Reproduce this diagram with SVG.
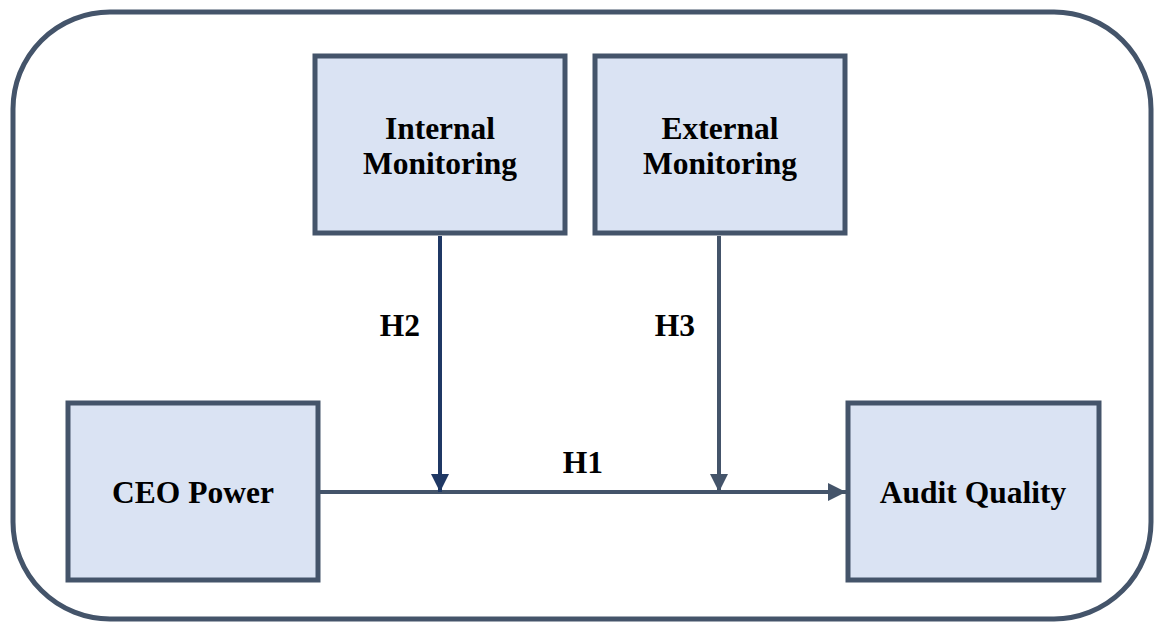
<svg xmlns="http://www.w3.org/2000/svg" width="1157" height="623" viewBox="0 0 1157 623">
<style>
.box{fill:#DAE3F3;stroke:#44546A;stroke-width:5}
.t{font-family:"Liberation Serif","Times New Roman",serif;font-weight:bold;font-size:31.5px;fill:#000;text-anchor:middle}
.c{stroke:#44546A;stroke-width:4;fill:none}
</style>
<defs>
<marker id="ag" viewBox="0 0 10 10" refX="10" refY="5" markerWidth="4.5" markerHeight="4.5" orient="auto" markerUnits="strokeWidth"><path d="M0,0L10,5L0,10z" fill="#44546A"/></marker>
<marker id="an" viewBox="0 0 10 10" refX="10" refY="5" markerWidth="4.5" markerHeight="4.5" orient="auto" markerUnits="strokeWidth"><path d="M0,0L10,5L0,10z" fill="#1F3864"/></marker>
</defs>
<rect x="13" y="12" width="1138" height="607" rx="97" ry="97" fill="#fff" stroke="#44546A" stroke-width="5"/>
<g id="connectors">
<line class="c" x1="320" y1="492" x2="846" y2="492" marker-end="url(#ag)"/>
<line x1="440" y1="236" x2="440" y2="492" stroke="#1F3864" stroke-width="4" marker-end="url(#an)"/>
<line class="c" x1="719" y1="236" x2="719" y2="492" marker-end="url(#ag)"/>
<text class="t" x="400" y="336">H2</text>
<text class="t" x="675" y="336">H3</text>
<text class="t" x="583" y="473">H1</text>
</g>
<g id="internal">
<rect class="box" x="315" y="56" width="250" height="177"/>
<text class="t" x="440" y="139">Internal</text>
<text class="t" x="440" y="174">Monitoring</text>
</g>
<g id="external">
<rect class="box" x="595" y="56" width="250" height="177"/>
<text class="t" x="720" y="139">External</text>
<text class="t" x="720" y="174">Monitoring</text>
</g>
<g id="ceo">
<rect class="box" x="68" y="403" width="250" height="177"/>
<text class="t" x="193" y="503">CEO Power</text>
</g>
<g id="audit">
<rect class="box" x="848" y="403" width="251" height="177"/>
<text class="t" x="973" y="503">Audit Quality</text>
</g>
</svg>
